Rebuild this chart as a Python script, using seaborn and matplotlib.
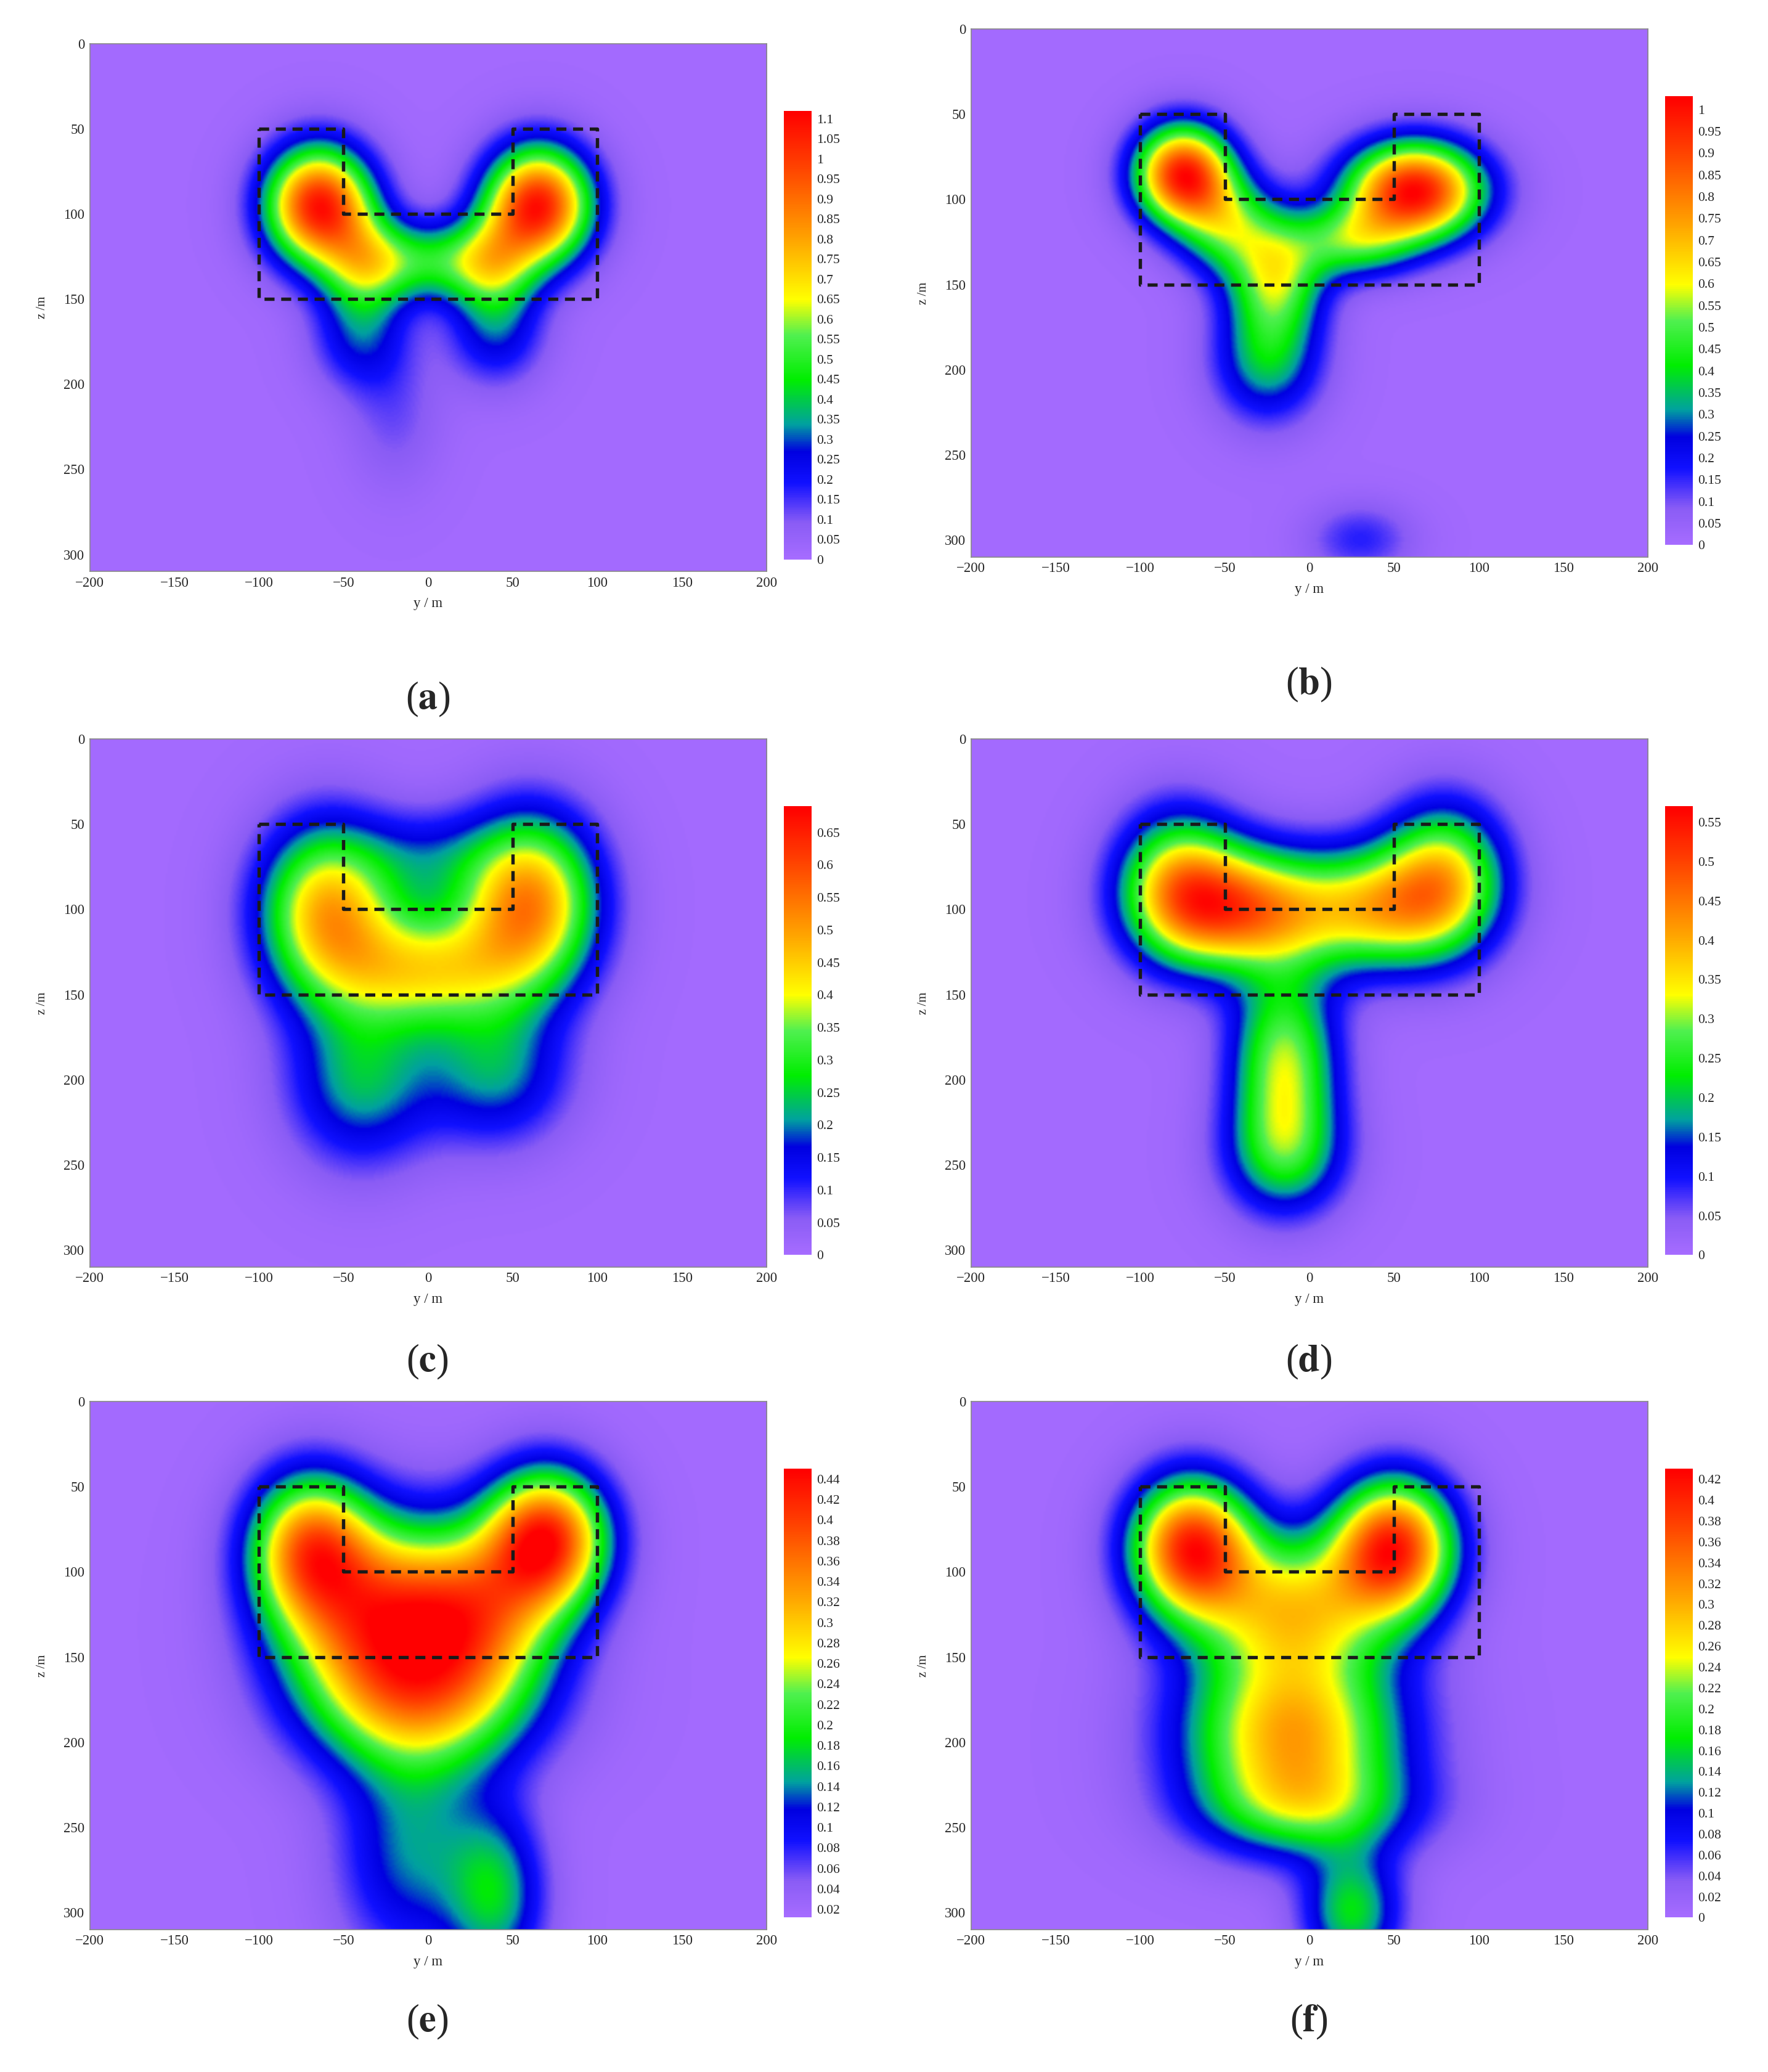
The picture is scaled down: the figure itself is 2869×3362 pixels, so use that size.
import numpy as np
import matplotlib
matplotlib.use("Agg")
import matplotlib.pyplot as plt
from matplotlib.colors import LinearSegmentedColormap
import seaborn as sns

sns.set_theme(style="white")
plt.rcParams['font.family'] = ['Liberation Serif', 'DejaVu Serif']
plt.rcParams['mathtext.fontset'] = 'stix'

labels = ['a', 'b', 'c', 'd', 'e', 'f']
# blobs: (y, z, amplitude, sigma_y, sigma_z)
blobs_a = [(-65, 95, 1.05, 22, 24), (65, 95, 1.05, 22, 24), (-38, 130, 0.4, 18, 20), (38, 130, 0.4, 18, 20),
           (0, 128, 0.4, 28, 16), (-40, 172, 0.25, 20, 22), (40, 170, 0.25, 20, 22), (-20, 220, 0.1, 20, 30)]
blobs_b = [(-75, 85, 0.95, 20, 20), (62, 95, 1.0, 28, 20), (-50, 115, 0.4, 20, 20), (-20, 145, 0.5, 20, 25),
           (-25, 195, 0.33, 22, 25), (25, 125, 0.4, 25, 15), (30, 300, 0.15, 22, 15)]
blobs_c = [(-60, 100, 0.45, 28, 35), (60, 95, 0.5, 28, 35), (0, 135, 0.36, 40, 25), (-40, 200, 0.22, 30, 35),
           (40, 195, 0.2, 30, 30), (0, 70, 0.12, 30, 20)]
blobs_d = [(-40, 100, 0.4, 35, 25), (40, 100, 0.32, 35, 25), (-78, 85, 0.3, 25, 30), (80, 80, 0.3, 25, 30),
           (-15, 190, 0.3, 22, 38), (-15, 245, 0.18, 25, 25)]
blobs_e = [(-30, 130, 0.32, 40, 40), (70, 80, 0.38, 25, 28), (-70, 85, 0.3, 25, 30), (30, 125, 0.25, 35, 35),
           (0, 180, 0.18, 45, 30), (-10, 265, 0.12, 30, 45), (40, 290, 0.14, 20, 35)]
blobs_f = [(-70, 85, 0.38, 25, 28), (50, 85, 0.38, 25, 28), (-10, 120, 0.24, 40, 30), (-10, 195, 0.29, 45, 35),
           (0, 240, 0.13, 45, 20), (25, 300, 0.16, 20, 25)]
all_blobs = [blobs_a, blobs_b, blobs_c, blobs_d, blobs_e, blobs_f]
vmins = [0, 0, 0, 0, 0.012, 0]
vmaxs = [1.12, 1.03, 0.69, 0.57, 0.45, 0.43]
tick_steps = [0.05, 0.05, 0.05, 0.05, 0.02, 0.02]
tick_starts = [0, 0, 0, 0, 0.02, 0]
box_y = [-100, -50, -50, 50, 50, 100, 100, -100, -100]
box_z = [50, 50, 100, 100, 50, 50, 150, 150, 50]

cmap = LinearSegmentedColormap.from_list('c', [
    (0.0, '#a66cff'), (0.08, '#8a5cf5'), (0.17, '#1010ff'), (0.24, '#0000e0'), (0.3, '#00a0a0'),
    (0.4, '#00ee00'), (0.5, '#50f050'), (0.58, '#ffff00'), (0.72, '#ffa000'), (0.88, '#ff4000'), (1.0, '#ff0000')])

W, H = 1340, 1570
fig = plt.figure(figsize=(2869/300, 3362/300), dpi=300)
yy, zz = np.meshgrid(np.linspace(-200, 200, 401), np.linspace(0, 310, 311))
rows_top = [33, 560, 1062]
label_off = [497, 472, 470]
for i, lab in enumerate(labels):
    r, c = divmod(i, 2)
    x0 = 68 if c == 0 else 736
    y0 = rows_top[r] if c == 0 else rows_top[r] - (11 if r == 0 else 0)
    ax = fig.add_axes([x0/W, 1-(y0+400)/H, 513/W, 400/H])
    field = np.full_like(yy, vmins[i] + 0.01 * vmaxs[i])
    for (by, bz, a, sy, sz) in all_blobs[i]:
        field += a * np.exp(-((yy-by)**2/(2*sy**2) + (zz-bz)**2/(2*sz**2)))
    field = np.clip(field, vmins[i], vmaxs[i])
    im = ax.imshow(field, extent=[-200, 200, 310, 0], aspect='auto', cmap=cmap,
                   vmin=vmins[i], vmax=vmaxs[i], interpolation='bilinear')
    ax.plot(box_y, box_z, 'k--', lw=1.3, dashes=(3, 2))
    ax.set_xlim(-200, 200); ax.set_ylim(310, 0)
    ax.set_xticks(range(-200, 201, 50)); ax.set_yticks(range(0, 301, 50))
    ax.tick_params(labelsize=5.5, length=1.5, pad=2, direction='in')
    for s in ax.spines.values():
        s.set_linewidth(0.4); s.set_color('#888888')
    ax.set_xlabel('y / m', fontsize=5.5, labelpad=3)
    ax.set_ylabel('z /m', fontsize=5, labelpad=6)
    cax = fig.add_axes([(x0+526)/W, 1-(y0+391)/H, 21/W, 340/H])
    cb = fig.colorbar(im, cax=cax)
    ticks = np.arange(tick_starts[i], vmaxs[i]+1e-9, tick_steps[i])
    cb.set_ticks(ticks)
    cb.set_ticklabels([('%g' % round(t, 2)) for t in ticks])
    cb.outline.set_visible(False)
    cax.tick_params(labelsize=5.2, length=0, pad=2)
    fig.text((x0+256)/W, 1-(y0+label_off[r])/H, r'($\mathbf{%s}$)' % lab, ha='center', va='center', fontsize=15)

fig.savefig('out.png', dpi=300, facecolor='white')
